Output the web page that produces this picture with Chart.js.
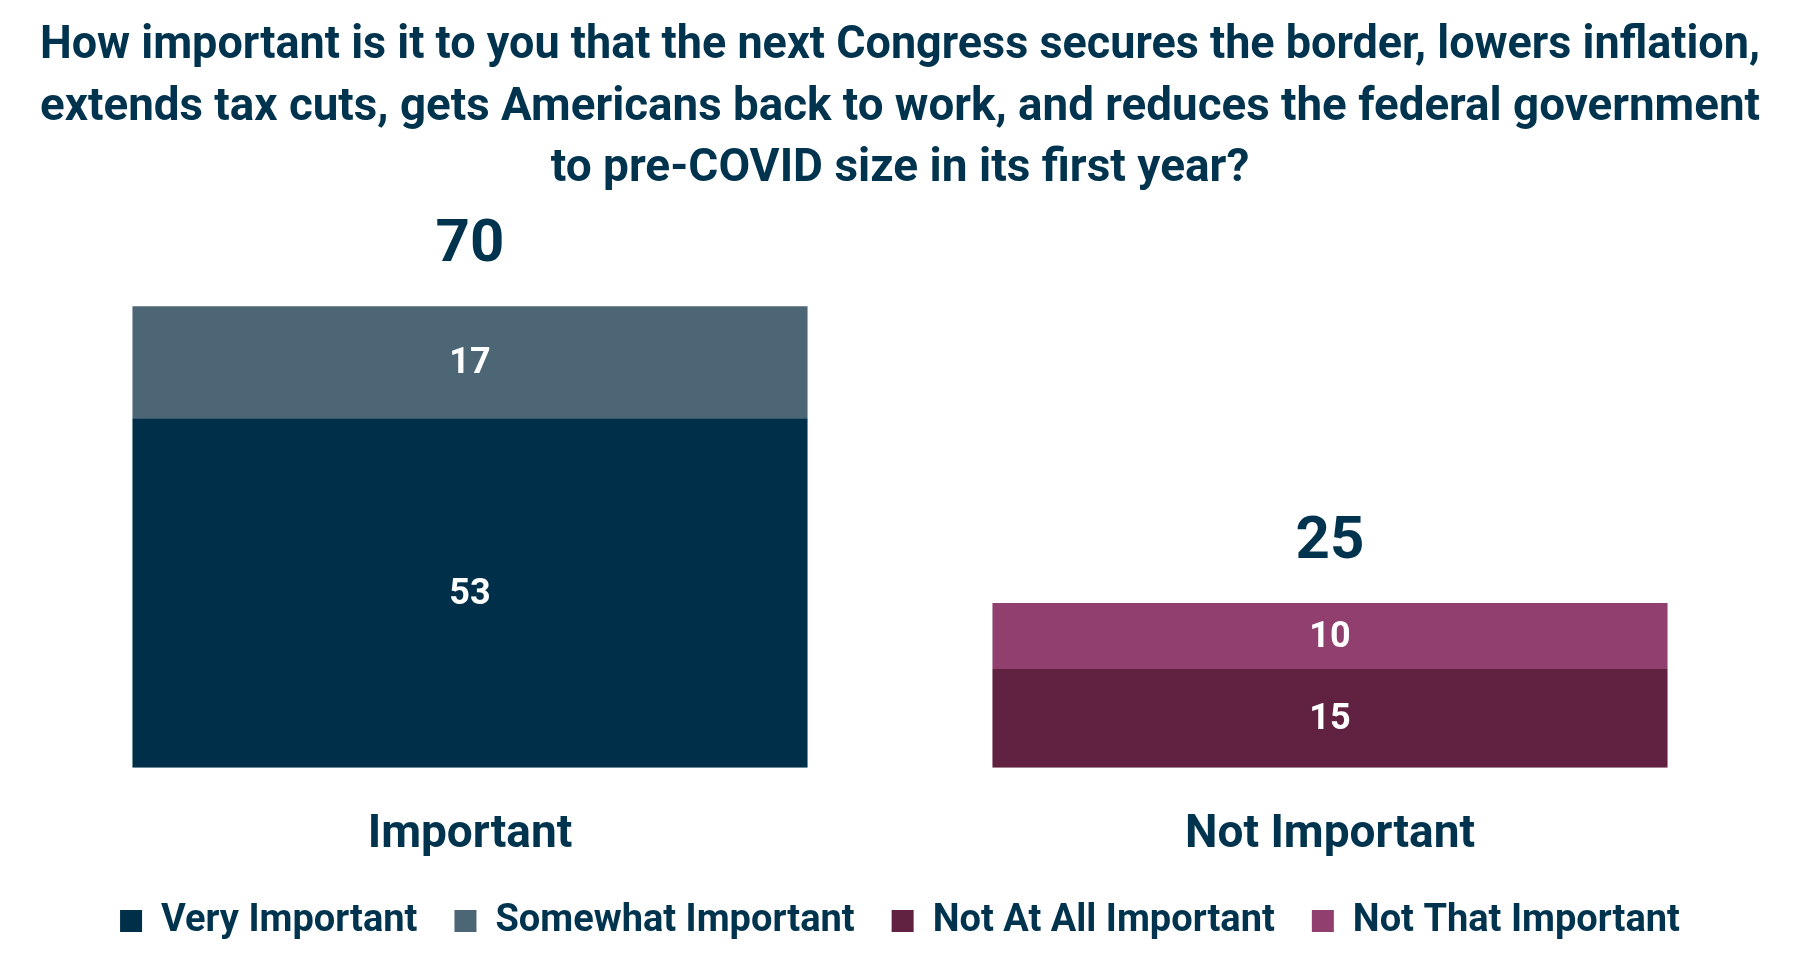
<!DOCTYPE html>
<html>
<head>
<meta charset="utf-8">
<title>Importance of Congress priorities</title>
<script src="https://cdn.jsdelivr.net/npm/chart.js@4.4.1/dist/chart.umd.min.js"></script>
<style>
  html, body { margin: 0; padding: 0; background: #fff; }
  #wrap { width: 1800px; height: 977px; }
</style>
</head>
<body>
<div id="wrap"><canvas id="chart"></canvas></div>
<script>
const categories = ["Important", "Not Important"];
const veryImportant = [53, null];
const somewhatImportant = [17, null];
const notAtAllImportant = [null, 15];
const notThatImportant = [null, 10];

const FONT = "'Liberation Sans Narrow', 'Roboto', sans-serif";
const NAVY = "#00334e";

// value labels inside bars + totals above each stack
const barLabels = {
  id: "barLabels",
  afterDatasetsDraw(chart) {
    const ctx = chart.ctx;
    ctx.save();
    ctx.textAlign = "center";
    ctx.textBaseline = "middle";
    const tops = {};
    chart.data.datasets.forEach((ds, i) => {
      chart.getDatasetMeta(i).data.forEach((bar, j) => {
        const v = ds.data[j];
        if (v == null) return;
        ctx.fillStyle = "#ffffff";
        ctx.font = "bold 36px " + FONT;
        ctx.fillText(v, bar.x, (bar.y + bar.base) / 2 + 2);
        if (!tops[j] || bar.y < tops[j].y) tops[j] = { x: bar.x, y: bar.y };
      });
    });
    categories.forEach((c, j) => {
      if (!tops[j]) return;
      let sum = 0;
      chart.data.datasets.forEach(ds => { sum += ds.data[j] || 0; });
      ctx.fillStyle = NAVY;
      ctx.font = "bold 60px " + FONT;
      ctx.fillText(sum, tops[j].x, tops[j].y - 60);
    });
    ctx.restore();
  }
};

new Chart(document.getElementById("chart"), {
  type: "bar",
  data: {
    labels: categories,
    datasets: [
      { label: "Very Important", data: veryImportant, backgroundColor: "#003049" },
      { label: "Somewhat Important", data: somewhatImportant, backgroundColor: "#4d6675" },
      { label: "Not At All Important", data: notAtAllImportant, backgroundColor: "#602240" },
      { label: "Not That Important", data: notThatImportant, backgroundColor: "#913f6e" }
    ]
  },
  options: {
    responsive: true,
    maintainAspectRatio: false,
    animation: false,
    categoryPercentage: 0.785,
    barPercentage: 1,
    layout: { padding: { left: 40, right: 40, top: 0, bottom: 27 } },
    scales: {
      x: {
        stacked: true,
        grid: { display: false, drawTicks: false },
        border: { display: false },
        ticks: { color: NAVY, padding: 40, font: { family: FONT, size: 46, weight: "bold" } },
        afterFit(scale) { scale.height -= 38; }
      },
      y: {
        stacked: true,
        display: false,
        min: 0,
        max: 83
      }
    },
    plugins: {
      title: {
        display: true,
        text: [
          "How important is it to you that the next Congress secures the border, lowers inflation,",
          "extends tax cuts, gets Americans back to work, and reduces the federal government",
          "to pre-COVID size in its first year?"
        ],
        color: NAVY,
        font: { family: FONT, size: 46, weight: "bold", lineHeight: 1.337 },
        padding: { top: 16, bottom: 20 }
      },
      legend: {
        position: "bottom",
        labels: {
          color: NAVY,
          boxWidth: 22,
          boxHeight: 22,
          padding: 37,
          font: { family: FONT, size: 38, weight: "bold" }
        }
      },
      tooltip: { enabled: false }
    }
  },
  plugins: [barLabels]
});
</script>
</body>
</html>
